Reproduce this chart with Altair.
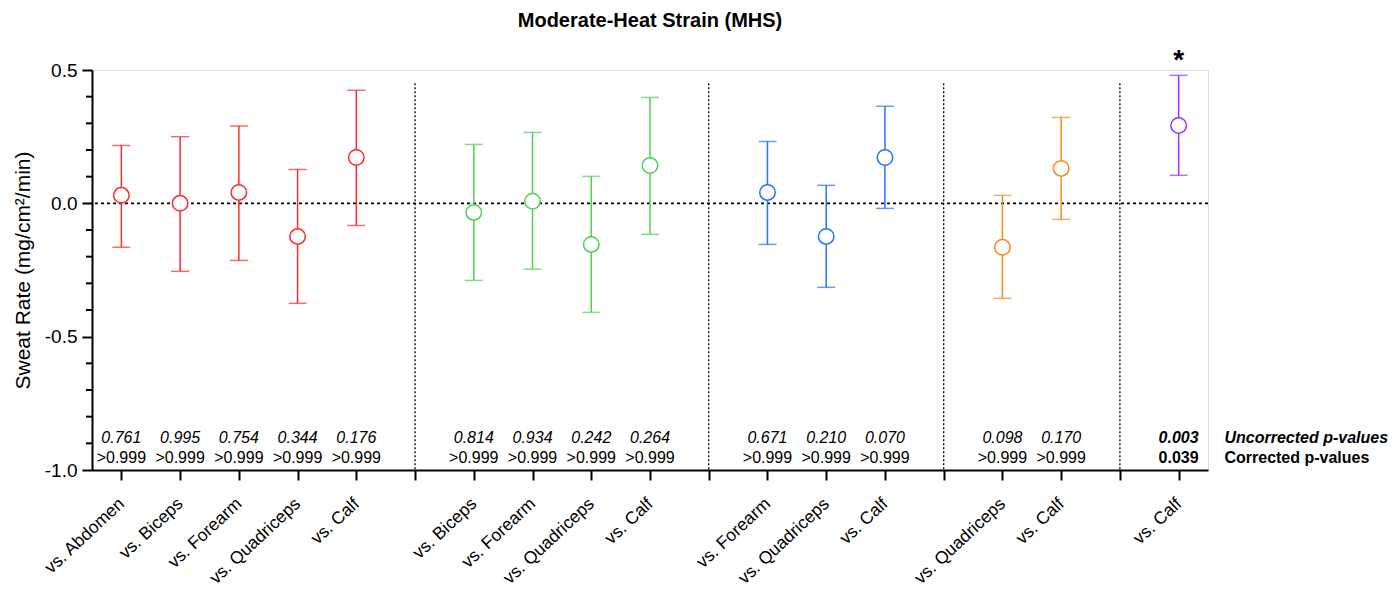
import altair as alt
import pandas as pd

FONT = "Liberation Sans"

# ---- data ----
tick_labels = ["vs. Abdomen", "vs. Biceps", "vs. Forearm", "vs. Quadriceps", "vs. Calf", "",
               "vs. Biceps", "vs. Forearm", "vs. Quadriceps", "vs. Calf", "",
               "vs. Forearm", "vs. Quadriceps", "vs. Calf", "",
               "vs. Quadriceps", "vs. Calf", "",
               "vs. Calf"]
positions = [0, 1, 2, 3, 4, 6, 7, 8, 9, 11, 12, 13, 15, 16, 18]
groups = ["Chest"] * 5 + ["Abdomen"] * 4 + ["Biceps"] * 3 + ["Forearm"] * 2 + ["Quadriceps"]
means = [0.03, 0.0, 0.041, -0.124, 0.172, -0.034, 0.008, -0.154, 0.142,
         0.041, -0.124, 0.172, -0.165, 0.131, 0.292]
upper = [0.217, 0.25, 0.29, 0.127, 0.424, 0.221, 0.266, 0.101, 0.397,
         0.232, 0.0675, 0.364, 0.03, 0.322, 0.48]
lower = [-0.165, -0.255, -0.214, -0.375, -0.083, -0.289, -0.247, -0.409, -0.116,
         -0.154, -0.315, -0.019, -0.356, -0.06, 0.105]
uncorrected = ["0.761", "0.995", "0.754", "0.344", "0.176", "0.814", "0.934", "0.242", "0.264",
               "0.671", "0.210", "0.070", "0.098", "0.170", "0.003"]
corrected = [">0.999"] * 14 + ["0.039"]
significant = [False] * 14 + [True]

group_names = ["Chest", "Abdomen", "Biceps", "Forearm", "Quadriceps"]
group_colors = ["#FF2A2A", "#4ED14E", "#2374FF", "#FF8A1C", "#9B30FF"]

major_ticks = [-1.0, -0.5, 0.0, 0.5]
minor_ticks = [-0.9, -0.8, -0.7, -0.6, -0.4, -0.3, -0.2, -0.1, 0.1, 0.2, 0.3, 0.4]

divider_positions = [5, 10, 14, 17]
divider_top = 0.45
divider_bottom = -1.0

y_uncorr = -0.88
y_corr = -0.955
legend_x = 18.78
star_y = 0.505

df = pd.DataFrame({
    "pos": positions, "group": groups, "mean": means, "hi": upper, "lo": lower,
    "unc": uncorrected, "cor": corrected, "sig": significant,
})
df["yu"] = y_uncorr
df["yc"] = y_corr

div_df = pd.DataFrame({"pos": divider_positions, "top": divider_top, "bottom": divider_bottom})
minor_df = pd.DataFrame({"v": minor_ticks})
legend_df = pd.DataFrame({"x": [legend_x, legend_x],
                          "y": [y_uncorr, y_corr],
                          "t": ["Uncorrected p-values", "Corrected p-values"],
                          "kind": ["unc", "cor"]})
star_df = pd.DataFrame({"pos": [18], "y": [star_y], "t": ["*"]})

label_expr = "[" + ",".join("'" + s + "'" for s in tick_labels) + "][datum.value]"

xscale = alt.Scale(domain=[-0.5, 18.5], nice=False, zero=False)
yscale = alt.Scale(domain=[-1.0, 0.5], nice=False, zero=False)
color = alt.Color("group:N", scale=alt.Scale(domain=group_names, range=group_colors), legend=None)

x_axis = alt.Axis(values=list(range(len(tick_labels))), labelExpr=label_expr, title=None,
                  labelAngle=-43, labelAlign="right", labelBaseline="middle",
                  labelFontSize=17.5, labelFont=FONT, labelColor="black", labelPadding=21,
                  tickSize=10, tickWidth=2, tickColor="black", domainWidth=2, domainColor="black",
                  grid=False, labelOverlap=False, labelFlush=False)
y_axis = alt.Axis(values=major_ticks,
                  labelExpr="replace(format(datum.value, '.1f'), '\u2212', '-')",
                  tickSize=10, tickWidth=2, tickColor="black", domainWidth=2, domainColor="black",
                  labelFontSize=19, labelFont=FONT, labelColor="black", labelPadding=5,
                  title="Sweat Rate (mg/cm²/min)", titleFontSize=21, titleFont=FONT,
                  titleFontWeight="normal", titleColor="black", titlePadding=11,
                  grid=False, labelOverlap=False, labelFlush=False)

base = alt.Chart(df)

zero = alt.Chart(pd.DataFrame({"y": [0.0]})).mark_rule(
    color="black", strokeDash=[3, 3], strokeWidth=1.8
).encode(y=alt.Y("y:Q", scale=yscale, axis=y_axis))

minor = alt.Chart(minor_df).mark_rule(color="black", strokeWidth=2).encode(
    y=alt.Y("v:Q", scale=yscale), x=alt.value(-6), x2=alt.value(0))

dividers = alt.Chart(div_df).mark_rule(color="black", strokeDash=[2, 2], strokeWidth=1.3).encode(
    x=alt.X("pos:Q", scale=xscale, axis=x_axis),
    y=alt.Y("top:Q", scale=yscale),
    y2="bottom:Q",
)

bars = base.mark_rule(strokeWidth=1.5).encode(
    x=alt.X("pos:Q", scale=xscale), y=alt.Y("lo:Q", scale=yscale), y2="hi:Q", color=color)
cap_hi = base.mark_tick(orient="horizontal", size=18, thickness=1.5).encode(
    x=alt.X("pos:Q", scale=xscale), y=alt.Y("hi:Q", scale=yscale), color=color)
cap_lo = base.mark_tick(orient="horizontal", size=18, thickness=1.5).encode(
    x=alt.X("pos:Q", scale=xscale), y=alt.Y("lo:Q", scale=yscale), color=color)
points = base.mark_point(shape="circle", filled=False, fill="white", fillOpacity=1,
                         size=240, strokeWidth=1.5, opacity=1).encode(
    x=alt.X("pos:Q", scale=xscale), y=alt.Y("mean:Q", scale=yscale), color=color)

unc_reg = base.transform_filter("!datum.sig").mark_text(
    font=FONT, fontSize=16, fontStyle="italic", color="black", baseline="middle").encode(
    x=alt.X("pos:Q", scale=xscale), y=alt.Y("yu:Q", scale=yscale), text="unc:N")
cor_reg = base.transform_filter("!datum.sig").mark_text(
    font=FONT, fontSize=16, color="black", baseline="middle").encode(
    x=alt.X("pos:Q", scale=xscale), y=alt.Y("yc:Q", scale=yscale), text="cor:N")
unc_sig = base.transform_filter("datum.sig").mark_text(
    font=FONT, fontSize=16, fontStyle="italic", fontWeight="bold", color="black", baseline="middle").encode(
    x=alt.X("pos:Q", scale=xscale), y=alt.Y("yu:Q", scale=yscale), text="unc:N")
cor_sig = base.transform_filter("datum.sig").mark_text(
    font=FONT, fontSize=16, fontWeight="bold", color="black", baseline="middle").encode(
    x=alt.X("pos:Q", scale=xscale), y=alt.Y("yc:Q", scale=yscale), text="cor:N")

leg_unc = alt.Chart(legend_df).transform_filter("datum.kind == 'unc'").mark_text(
    font=FONT, fontSize=16, fontStyle="italic", fontWeight="bold", color="black",
    align="left", baseline="middle").encode(
    x=alt.X("x:Q", scale=xscale), y=alt.Y("y:Q", scale=yscale), text="t:N")
leg_cor = alt.Chart(legend_df).transform_filter("datum.kind == 'cor'").mark_text(
    font=FONT, fontSize=16, fontWeight="bold", color="black",
    align="left", baseline="middle").encode(
    x=alt.X("x:Q", scale=xscale), y=alt.Y("y:Q", scale=yscale), text="t:N")

star = alt.Chart(star_df).mark_text(font=FONT, fontSize=28, fontWeight="bold", color="black",
                                    baseline="alphabetic").encode(
    x=alt.X("pos:Q", scale=xscale), y=alt.Y("y:Q", scale=yscale), text="t:N")

chart = alt.layer(
    zero, minor, dividers, bars, cap_hi, cap_lo, points,
    unc_reg, cor_reg, unc_sig, cor_sig, leg_unc, leg_cor, star,
).properties(
    width=1116, height=400,
    title=alt.Title("Moderate-Heat Strain (MHS)", font=FONT, fontSize=20, fontWeight="bold",
                    color="black", anchor="middle", offset=16),
    autosize=alt.AutoSizeParams(type="none"),
    padding={"left": 92, "top": 70, "right": 190, "bottom": 120},
).configure_view(stroke=None).configure(background="white")

chart.save("out.html", embed_options={"renderer": "svg", "actions": False})
